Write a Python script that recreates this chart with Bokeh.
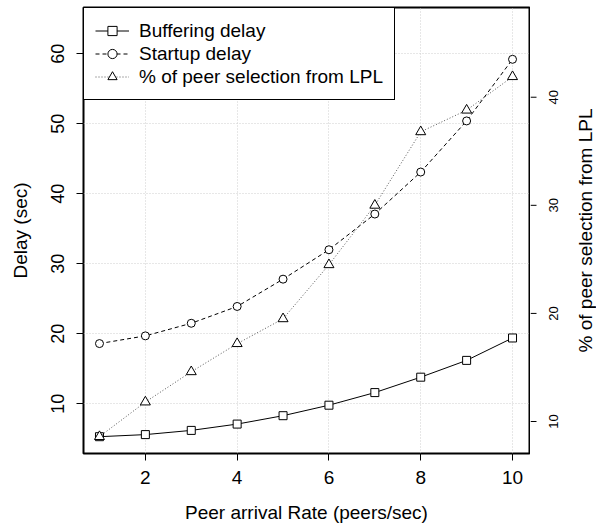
import math
from bokeh.plotting import figure
from bokeh.layouts import row
from bokeh.models import Range1d, Legend, LegendItem, FixedTicker, Label
from bokeh.embed import file_html
from bokeh.resources import INLINE

rate = [1, 2, 3, 4, 5, 6, 7, 8, 9, 10]
buffering_delay = [5.3, 5.6, 6.2, 7.1, 8.3, 9.8, 11.6, 13.8, 16.2, 19.4]
startup_delay = [18.6, 19.7, 21.5, 23.9, 27.8, 32.0, 37.1, 43.1, 50.4, 59.2]
lpl_percent = [8.6, 11.8, 14.6, 17.2, 19.5, 24.5, 30.0, 36.8, 38.8, 41.9]
x_ticks = [2, 4, 6, 8, 10]
delay_ticks = [10, 20, 30, 40, 50, 60]
pct_ticks = [10, 20, 30, 40]

FONT = "Liberation Sans"
X_LO, X_HI = 0.652, 10.37
Y_LO, Y_HI = 2.9, 66.6
P_LO, P_HI = 7.04, 48.3
FRAME = 446
TOP = 7
LEFT = 83
TICK = 7
H = 527
W = 596
P_W = LEFT + FRAME + 1             # main figure width
Q_W = W - P_W                      # right strip width

p = figure(width=P_W, height=H, frame_width=FRAME, frame_height=FRAME,
           x_range=Range1d(X_LO, X_HI), y_range=Range1d(Y_LO, Y_HI),
           output_backend="svg", toolbar_location=None,
           min_border_left=LEFT, min_border_right=1,
           min_border_top=TOP, min_border_bottom=H - TOP - FRAME,
           background_fill_color="white", border_fill_color="white")
p.extra_y_ranges = {"pct": Range1d(P_LO, P_HI)}

p.outline_line_color = "black"
p.outline_line_width = 2

# grid
p.xgrid.ticker = FixedTicker(ticks=x_ticks)
p.ygrid.ticker = FixedTicker(ticks=delay_ticks)
for g in (p.xgrid, p.ygrid):
    g.grid_line_color = "#cfcfcf"
    g.grid_line_dash = "1 2"
    g.grid_line_width = 1

def style_axis(ax, ticks, size, standoff):
    ax.ticker = FixedTicker(ticks=ticks)
    ax.axis_line_color = None
    ax.major_tick_out = TICK
    ax.major_tick_in = 0
    ax.major_tick_line_color = "black"
    ax.minor_tick_line_color = None
    ax.major_label_text_font = FONT
    ax.major_label_text_font_size = size
    ax.major_label_text_color = "black"
    ax.major_label_standoff = standoff
    ax.axis_label_text_font = FONT
    ax.axis_label_text_font_size = "19px"
    ax.axis_label_text_font_style = "normal"
    ax.axis_label_text_color = "black"

xa = p.xaxis[0]
style_axis(xa, x_ticks, "19px", 10)
xa.axis_label = "Peer arrival Rate (peers/sec)"
xa.axis_label_standoff = 15

ya = p.yaxis[0]
style_axis(ya, delay_ticks, "18px", 12)
ya.axis_label = "Delay (sec)"
ya.major_label_orientation = "vertical"
ya.axis_label_standoff = 18

# series
l1 = p.line(rate, buffering_delay, line_color="black", line_width=1)
s1 = p.scatter(rate, buffering_delay, marker="square", size=8,
               line_color="black", fill_color="white", line_width=1)
l2 = p.line(rate, startup_delay, line_color="black", line_width=1, line_dash="4 3")
s2 = p.scatter(rate, startup_delay, marker="circle", size=8,
               line_color="black", fill_color="white", line_width=1)
l3 = p.line(rate, lpl_percent, line_color="#555555", line_width=1, line_dash="1 2",
            y_range_name="pct")
s3 = p.scatter(rate, lpl_percent, marker="triangle", size=10,
               line_color="black", fill_color="white", line_width=1, y_range_name="pct")

legend = Legend(items=[
    LegendItem(label="Buffering delay", renderers=[l1, s1]),
    LegendItem(label="Startup delay", renderers=[l2, s2]),
    LegendItem(label="% of peer selection from LPL", renderers=[l3, s3]),
], location="top_left", margin=0, padding=11, spacing=0,
   glyph_width=34, glyph_height=23, label_height=23, label_standoff=10,
   label_text_font=FONT, label_text_font_size="19px", label_text_color="black",
   border_line_color="black", border_line_width=1, border_line_alpha=1,
   background_fill_color="white", background_fill_alpha=1)
p.add_layout(legend)

# right strip: same vertical scale as the percentage axis; holds that axis's
# tick marks, tick labels and title (texts reading bottom-to-top)
q = figure(width=Q_W, height=H, frame_height=FRAME,
           x_range=Range1d(0, Q_W), y_range=Range1d(P_LO, P_HI),
           x_axis_location=None, y_axis_location=None,
           output_backend="svg", toolbar_location=None,
           min_border_left=0, min_border_right=0,
           min_border_top=TOP, min_border_bottom=H - TOP - FRAME,
           background_fill_color="white", border_fill_color="white")
q.outline_line_color = None
q.grid.visible = False
q.segment(x0=0, y0=pct_ticks, x1=TICK - 1, y1=pct_ticks, line_color="black", line_width=1)
for t in pct_ticks:
    q.add_layout(Label(x=23, y=t, text=str(t), angle=math.pi / 2,
                       text_align="center", text_baseline="middle",
                       text_font=FONT, text_font_size="13px", text_color="black"))
q.add_layout(Label(x=55, y=(P_LO + P_HI) / 2, text="% of peer selection from LPL",
                   angle=math.pi / 2, text_align="center", text_baseline="middle",
                   text_font=FONT, text_font_size="19px", text_color="black"))

layout = row(p, q, spacing=0)
open("out.html", "w").write(file_html(layout, INLINE))
